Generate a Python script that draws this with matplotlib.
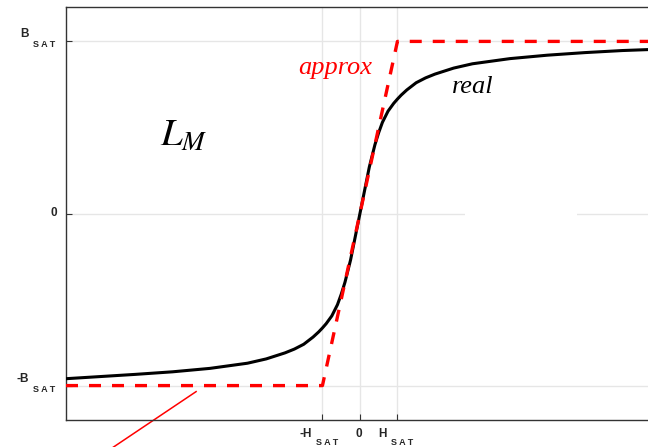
import matplotlib.pyplot as plt
from matplotlib.patches import Rectangle

# saturation levels (normalised)
H_SAT = 1.0
B_SAT = 1.0

# real B-H curve
h_real = [-7.84, -6, -5, -4, -3, -2.5, -2, -1.75, -1.5, -1.25, -1.1, -1, -0.9, -0.75, -0.6, -0.5, -0.4, -0.25, 0,
          0.25, 0.4, 0.5, 0.6, 0.75, 0.9, 1, 1.1, 1.25, 1.5, 1.75, 2, 2.5, 3, 4, 5, 6, 7, 8, 9.1]
b_real = [-0.96, -0.935, -0.92, -0.9, -0.87, -0.845, -0.81, -0.788, -0.76, -0.718, -0.688, -0.665, -0.64, -0.595, -0.53, -0.47, -0.40, -0.27, 0,
          0.27, 0.40, 0.47, 0.53, 0.595, 0.64, 0.665, 0.688, 0.718, 0.76, 0.788, 0.81, 0.845, 0.87, 0.9, 0.92, 0.935, 0.947, 0.955, 0.962]

# piecewise linear approximation
h_approx = [-7.84, -H_SAT, H_SAT, 9.1]
b_approx = [-B_SAT, -B_SAT, B_SAT, B_SAT]

x_ticks = [-H_SAT, 0, H_SAT]
y_ticks = [-B_SAT, 0, B_SAT]

fig = plt.figure(figsize=(6.48, 4.47), dpi=100)
ax = fig.add_axes([66 / 648, 27 / 447, 634 / 648, 413 / 447])

ax.plot(h_real, b_real, color='black', lw=2.2, zorder=3)
ax.plot(h_approx, b_approx, color='red', lw=2.4, linestyle=(0, (3.6, 3.3)), zorder=3)

ax.set_xlim(-7.84, 9.07)
ax.set_ylim(-1.2, 1.2)
ax.set_xticks(x_ticks)
ax.set_yticks(y_ticks)
ax.set_xticklabels([])
ax.set_yticklabels([])
ax.set_axisbelow(True)
ax.grid(True, color='#e6e6e6', lw=1)
ax.tick_params(direction='in', length=4, color='#333333')
for s in ax.spines.values():
    s.set_color('#333333')
    s.set_linewidth(1.0)

# gap in the zero grid line
ax.add_patch(Rectangle((2.8, -0.05), 3.0, 0.1, facecolor='white', edgecolor='none', zorder=1))

# labels inside the plot
ax.text(-1.65, 0.808, 'approx', color='red', fontsize=19, family='Liberation Serif', style='italic')
ax.text(2.45, 0.70, 'real', color='black', fontsize=19, family='Liberation Serif', style='italic')
ax.text(-5.33, 0.395, '$L_M$', fontsize=28, math_fontfamily='stix')

# pointer line leaving the plot
ax.plot([-4.37, -7.55], [-1.035, -1.5], color='red', lw=1.1, clip_on=False)

# tick labels with spaced subscripts
bold = dict(fontweight='bold', family='Liberation Sans', color='#262626')


def y_label(val, main):
    ax.annotate(main, xy=(0, val), xycoords=('axes fraction', 'data'), xytext=(-37, 4),
                textcoords='offset pixels', ha='right', va='baseline', fontsize=8.5, **bold)
    ax.annotate('S A T', xy=(0, val), xycoords=('axes fraction', 'data'), xytext=(-33, -6),
                textcoords='offset pixels', ha='left', va='baseline', fontsize=6.5, **bold)


def x_label(val, main):
    ax.annotate(main, xy=(val, 0), xycoords=('data', 'axes fraction'), xytext=(-11, -17),
                textcoords='offset pixels', ha='right', va='baseline', fontsize=8.5, **bold)
    ax.annotate('S A T', xy=(val, 0), xycoords=('data', 'axes fraction'), xytext=(-6, -25),
                textcoords='offset pixels', ha='left', va='baseline', fontsize=6.5, **bold)


y_label(B_SAT, 'B')
y_label(-B_SAT, '-B')
ax.annotate('0', xy=(0, 0), xycoords=('axes fraction', 'data'), xytext=(-9, 0),
            textcoords='offset pixels', ha='right', va='center', fontsize=8.5, **bold)
x_label(-H_SAT, '-H')
x_label(H_SAT, 'H')
ax.annotate('0', xy=(0, 0), xycoords=('data', 'axes fraction'), xytext=(-1.5, -17),
            textcoords='offset pixels', ha='center', va='baseline', fontsize=8.5, **bold)

fig.savefig('out.png', dpi=100)
